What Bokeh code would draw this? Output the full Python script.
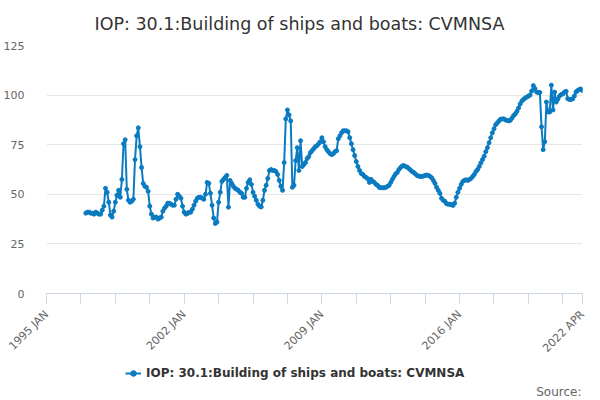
import math
from bokeh.plotting import figure
from bokeh.layouts import column
from bokeh.models import FixedTicker, Legend, LegendItem, Range1d, Label
from bokeh.embed import file_html
from bokeh.resources import INLINE

# ---- data ----
series_name = "IOP: 30.1:Building of ships and boats: CVMNSA"
first_month = 24  # 1997 JAN, counted in months from 1995 JAN
values = [
    40.5, 41, 41, 40.5, 40.5, 40, 41, 40.5, 40, 40,
    42, 44, 53, 51, 46, 39.5, 38.5, 41.5, 46, 49.5,
    52, 48.5, 57.5, 75.5, 77.5, 52.5, 47, 46, 46.5, 47.5,
    67.5, 79.5, 83.5, 74, 63.5, 55.5, 54, 53.5, 51.5, 44,
    40, 38, 38.5, 38.5, 37.5, 38, 38.5, 41.5, 43, 44,
    45.5, 45.5, 45, 44.5, 44.5, 47.5, 50, 49, 48, 44,
    41, 40, 40.3, 41, 41, 42.5, 44.5, 46.5, 48, 48.5,
    48.5, 48, 47.5, 50, 56, 55.5, 50.5, 44.5, 38, 35.3,
    36, 46, 51, 56.5, 57.5, 58.5, 59.5, 43.5, 57, 55.5,
    54, 53, 52.5, 52, 51, 50.5, 48.5, 48.5, 53, 56,
    57.3, 55, 51, 49, 47, 45, 44, 43.6, 47, 52,
    54.5, 58, 62, 62.5, 62, 62, 61.5, 60, 57, 54,
    52, 66, 88, 92.5, 90, 87, 53.5, 54.5, 67, 73.5,
    62, 77, 64, 65, 66, 68, 69, 71, 72, 73,
    74, 74.5, 75.5, 76.5, 78.5, 76.5, 74, 72.5, 71.5, 70.5,
    70, 70.5, 71.5, 72, 78, 79.5, 81, 82, 82, 82,
    81.5, 78.5, 75.5, 72.5, 69.5, 66.5, 64, 62, 60.5, 60,
    59, 58.5, 57.8, 56, 57.5, 56.5, 56, 55, 54.5, 53.5,
    53.3, 53.3, 53.3, 53.5, 54, 54.5, 56, 57.5, 59, 60.3,
    61, 62.5, 63.5, 64.3, 64.5, 64, 63.7, 63, 62.3, 61.5,
    61, 60.3, 59.5, 59.2, 59, 59, 59.2, 59.5, 59.7, 59.5,
    59, 58.3, 57, 55.5, 53.5, 52, 50.5, 48, 47, 46.5,
    45.3, 45, 45, 44.8, 44.4, 45.5, 48.5, 51, 53, 55,
    56.5, 57, 57.3, 57, 57.5, 58, 59, 60, 61.5, 62.5,
    64, 65.8, 67.5, 69.2, 71.5, 73.5, 76, 78.5, 81, 83,
    85, 86, 87, 87.8, 88, 88, 87.5, 87.2, 87, 87.3,
    88.5, 89.7, 90.5, 91.8, 93.5, 95.5, 97, 97.8, 98.5, 99,
    99.5, 100, 102, 104.8, 103.3, 101.5, 101.3, 101.3, 84, 72.5,
    76.5, 96.5, 91.5, 91.5, 105, 92.5, 101.5, 96.5, 98, 99.5,
    100.3, 100.6, 101.5, 101.9, 98.2, 97.8, 97.8, 98.1, 99.5, 101.5,
    102.3, 102.8, 103.1, 102.3,
]
months = [first_month + i for i in range(len(values))]

x_tick_positions = [0, 21, 42, 63, 84, 105, 126, 147, 168, 189, 210, 231,
                    252, 273, 294, 315, 327]
x_tick_labels = {0: "1995 JAN", 84: "2002 JAN", 168: "2009 JAN",
                 252: "2016 JAN", 327: "2022 APR"}
y_ticks = [0, 25, 50, 75, 100, 125]

FONT = "DejaVu Sans"
BLUE = "#0a7bc1"

p = figure(frame_width=536, frame_height=248, x_range=Range1d(0, 327),
           y_range=Range1d(0, 125), output_backend="svg", toolbar_location=None,
           min_border_left=39, min_border_right=17, min_border_top=37,
           min_border_bottom=5)
p.outline_line_color = None
p.xgrid.visible = False
p.ygrid.grid_line_color = "#e6e6e6"
p.ygrid.grid_line_width = 1

p.title.text = series_name
p.title.align = "left"
p.title.offset = 48
p.title.text_font = FONT
p.title.text_font_size = "17.5px"
p.title.text_font_style = "normal"
p.title.text_color = "#333333"
p.title.standoff = 23

p.yaxis.ticker = FixedTicker(ticks=y_ticks)
p.yaxis.axis_line_color = None
p.yaxis.major_tick_line_color = None
p.yaxis.minor_tick_line_color = None
p.yaxis.major_label_text_color = "#666666"
p.yaxis.major_label_text_font = FONT
p.yaxis.major_label_text_font_size = "11px"
p.yaxis.major_label_standoff = 16

p.xaxis.ticker = FixedTicker(ticks=x_tick_positions)
p.xaxis.major_label_overrides = {t: x_tick_labels.get(t, "") for t in x_tick_positions}
p.xaxis.axis_line_color = "#ccd6eb"
p.xaxis.major_tick_line_color = "#ccd6eb"
p.xaxis.major_tick_out = 10
p.xaxis.major_tick_in = 0
p.xaxis.minor_tick_line_color = None
p.xaxis.major_label_orientation = math.pi / 4
p.xaxis.major_label_text_color = "#666666"
p.xaxis.major_label_text_font = FONT
p.xaxis.major_label_text_font_size = "11px"
p.xaxis.major_label_standoff = 9

p.line(months, values, line_color=BLUE, line_width=2)
p.scatter(months, values, size=4, fill_color=BLUE, line_color=BLUE)

# legend / credits strip below the chart
p2 = figure(frame_width=536, frame_height=38, x_range=Range1d(0, 1),
            y_range=Range1d(0, 1), output_backend="svg", toolbar_location=None,
            x_axis_location=None, y_axis_location=None,
            min_border_left=39, min_border_right=17, min_border_top=0,
            min_border_bottom=0)
p2.outline_line_color = None
p2.grid.visible = False
nan = float("nan")
k1 = p2.line([nan], [nan], line_color=BLUE, line_width=2)
k2 = p2.scatter([nan], [nan], size=4, fill_color=BLUE, line_color=BLUE)
legend = Legend(items=[LegendItem(label=series_name, renderers=[k1, k2])],
                location=(79, 20), orientation="horizontal")
legend.label_text_font = FONT
legend.label_text_font_size = "12px"
legend.label_text_font_style = "bold"
legend.label_text_color = "#333333"
legend.border_line_color = None
legend.background_fill_alpha = 0
legend.glyph_width = 16
legend.glyph_height = 14
legend.label_height = 14
legend.label_standoff = 5
legend.padding = 0
legend.margin = 0
p2.add_layout(legend)

source = Label(x=535, y=9, x_units="screen", y_units="screen", text="Source:",
               text_align="right", text_baseline="middle", text_font=FONT,
               text_font_size="12px", text_color="#666666")
p2.add_layout(source)

layout = column(p, p2, spacing=0)
open("out.html", "w").write(file_html(layout, INLINE))
